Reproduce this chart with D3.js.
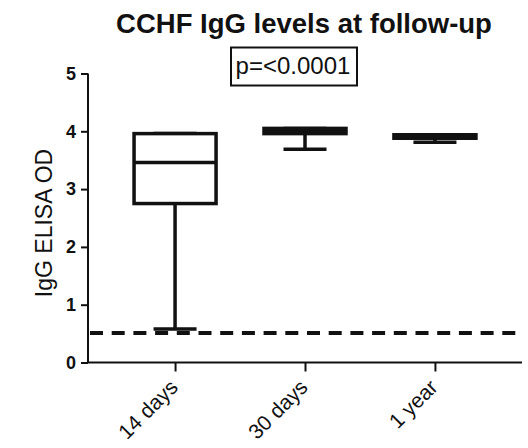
<!DOCTYPE html>
<html>
<head>
<meta charset="utf-8">
<script src="https://cdn.jsdelivr.net/npm/d3@7"></script>
<style>
  body { margin: 0; background: #fff; }
  text { font-family: "Liberation Sans", Arial, Helvetica, sans-serif; fill: #111; }
</style>
</head>
<body>
<div id="chart"></div>
<script>
// data
var categories = ["14 days", "30 days", "1 year"];
var maxVals    = [3.96, 4.05, 3.94];
var q3Vals     = [3.96, 4.05, 3.94];
var medians    = [3.46, 4.00, 3.91];
var q1Vals     = [2.75, 3.96, 3.88];
var minVals    = [0.58, 3.69, 3.81];
var cutoff     = 0.51;
var yTicks     = [0, 1, 2, 3, 4, 5];

var svgWidth = 528;
var svgHeight = 448;

var svg = d3.select("#chart")
  .append("svg")
  .attr("width", svgWidth)
  .attr("height", svgHeight);

var boxes = categories.map(function(c, i) {
  return { cat: c, max: maxVals[i], q3: q3Vals[i], med: medians[i], q1: q1Vals[i], min: minVals[i] };
});

// scales
var xScale = d3.scalePoint()
  .domain(categories)
  .range([88, 522])
  .padding(0.67);

var yScale = d3.scaleLinear()
  .domain([0, 5])
  .range([362.5, 73.5]);

var boxWidth = 82;
var capWidth = 43;

// title + p-value box
svg.append("text")
  .attr("x", 304)
  .attr("y", 33)
  .attr("text-anchor", "middle")
  .attr("font-size", "27.5px")
  .attr("font-weight", "bold")
  .text("CCHF IgG levels at follow-up");

svg.append("rect")
  .attr("x", 231)
  .attr("y", 47.5)
  .attr("width", 126)
  .attr("height", 38)
  .attr("fill", "none")
  .attr("stroke", "#111")
  .attr("stroke-width", 2);

svg.append("text")
  .attr("x", 293)
  .attr("y", 74)
  .attr("text-anchor", "middle")
  .attr("font-size", "24px")
  .text("p=<0.0001");

// axes
var leftAxis = d3.axisLeft(yScale)
  .tickValues(yTicks)
  .tickFormat(d3.format("d"))
  .tickSize(7)
  .tickPadding(5);

var yAxisG = svg.append("g")
  .attr("transform", "translate(88,0)")
  .call(leftAxis);

yAxisG.select(".domain").attr("stroke", "#111").attr("stroke-width", 2).attr("d", "M0," + yScale(5) + "V" + yScale(0));
yAxisG.selectAll(".tick line").attr("stroke", "#111").attr("stroke-width", 2);
yAxisG.selectAll(".tick text")
  .attr("font-size", "18px")
  .attr("font-weight", "bold")
  .attr("font-family", "Liberation Sans, Arial, sans-serif")
  .attr("fill", "#222");

var bottomAxis = d3.axisBottom(xScale)
  .tickSize(9)
  .tickFormat("");

var xAxisG = svg.append("g")
  .attr("transform", "translate(0," + yScale(0) + ")")
  .call(bottomAxis);

xAxisG.select(".domain").attr("stroke", "#111").attr("stroke-width", 2).attr("d", "M87,0H522");
xAxisG.selectAll(".tick line").attr("stroke", "#111").attr("stroke-width", 2);

// rotated category labels
svg.selectAll(".xlabel")
  .data(categories)
  .enter()
  .append("text")
  .attr("class", "xlabel")
  .attr("text-anchor", "end")
  .attr("font-size", "21px")
  .attr("transform", d => "translate(" + (xScale(d) + 4) + "," + (yScale(0) + 26) + ") rotate(-45)")
  .text(d => d);

// y label
svg.append("text")
  .attr("transform", "translate(52,223) rotate(-90)")
  .attr("text-anchor", "middle")
  .attr("font-size", "23px")
  .text("IgG ELISA OD");

// cutoff dashed line
svg.append("line")
  .attr("x1", 90)
  .attr("x2", 516)
  .attr("y1", yScale(cutoff))
  .attr("y2", yScale(cutoff))
  .attr("stroke", "#111")
  .attr("stroke-width", 4)
  .attr("stroke-dasharray", "13,8.7");

// box plots
var boxG = svg.selectAll(".box")
  .data(boxes)
  .enter()
  .append("g")
  .attr("class", "box");

boxG.append("line")
  .attr("x1", d => xScale(d.cat))
  .attr("x2", d => xScale(d.cat))
  .attr("y1", d => yScale(d.min))
  .attr("y2", d => yScale(d.max))
  .attr("stroke", "#111")
  .attr("stroke-width", 3.5);

boxG.append("line")
  .attr("x1", d => xScale(d.cat) - capWidth / 2)
  .attr("x2", d => xScale(d.cat) + capWidth / 2)
  .attr("y1", d => yScale(d.min))
  .attr("y2", d => yScale(d.min))
  .attr("stroke", "#111")
  .attr("stroke-width", 3.5);

boxG.append("line")
  .attr("x1", d => xScale(d.cat) - capWidth / 2)
  .attr("x2", d => xScale(d.cat) + capWidth / 2)
  .attr("y1", d => yScale(d.max))
  .attr("y2", d => yScale(d.max))
  .attr("stroke", "#111")
  .attr("stroke-width", 3.5);

boxG.append("rect")
  .attr("x", d => xScale(d.cat) - boxWidth / 2)
  .attr("y", d => yScale(d.q3))
  .attr("width", boxWidth)
  .attr("height", d => yScale(d.q1) - yScale(d.q3))
  .attr("fill", "#fff")
  .attr("stroke", "#111")
  .attr("stroke-width", 3.5);

boxG.append("line")
  .attr("x1", d => xScale(d.cat) - boxWidth / 2)
  .attr("x2", d => xScale(d.cat) + boxWidth / 2)
  .attr("y1", d => yScale(d.med))
  .attr("y2", d => yScale(d.med))
  .attr("stroke", "#111")
  .attr("stroke-width", 3.5);
</script>
</body>
</html>
